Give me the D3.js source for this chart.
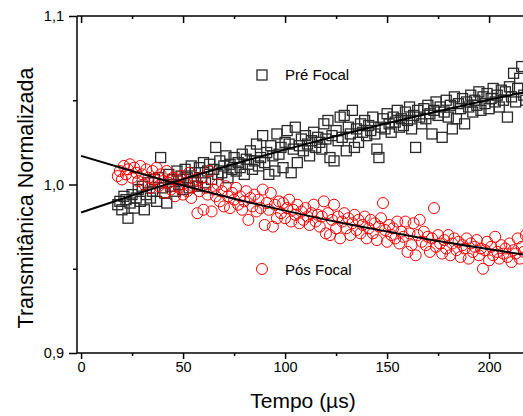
<!DOCTYPE html>
<html><head><meta charset="utf-8">
<script src="https://cdn.jsdelivr.net/npm/d3@7"></script>
<style>body{margin:0;background:#fff}svg{display:block}text{font-family:"Liberation Sans",Arial,sans-serif}</style>
</head><body><svg id="c" width="523" height="416"></svg>
<script>
// sampling times (µs)
const tempo = d3.range(18, 219, 1);
const preFocal = [
0.988,0.990,0.985,0.993,0.991,0.980,0.989,0.994,0.986,0.992,
0.997,0.990,0.999,0.985,0.994,1.001,0.992,0.996,1.003,0.990,
1.004,1.016,0.998,0.995,0.989,1.006,0.999,1.003,0.996,1.008,
1.000,1.005,0.997,1.009,1.004,0.998,1.011,1.002,1.007,0.999,
1.010,1.004,1.013,1.001,1.008,1.012,1.003,1.009,1.022,1.006,
1.014,1.007,1.011,1.017,1.004,1.012,1.009,1.016,1.008,1.013,
1.010,1.018,1.006,1.015,1.012,1.020,1.009,1.014,1.024,1.011,
1.016,1.029,1.013,1.019,1.006,1.023,1.017,1.008,1.030,1.018,
1.022,1.010,1.025,1.032,1.024,1.007,1.021,1.034,1.013,1.023,
1.027,1.020,1.029,1.024,1.017,1.026,1.031,1.022,1.028,1.025,
1.021,1.036,1.027,1.038,1.016,1.029,1.014,1.032,1.026,1.040,
1.028,1.041,1.020,1.034,1.030,1.044,1.022,1.033,1.025,1.036,
1.031,1.038,1.029,1.035,1.032,1.040,1.030,1.021,1.016,1.034,
1.039,1.033,1.042,1.036,1.031,1.040,1.037,1.044,1.034,1.039,
1.035,1.043,1.038,1.046,1.033,1.041,1.022,1.044,1.040,1.036,
1.045,1.039,1.047,1.042,1.030,1.044,1.049,1.041,1.046,1.028,
1.043,1.050,1.040,1.047,1.033,1.052,1.039,1.048,1.045,1.051,
1.036,1.049,1.046,1.053,1.043,1.050,1.047,1.055,1.044,1.052,
1.048,1.054,1.045,1.051,1.057,1.049,1.053,1.046,1.056,1.050,
1.055,1.040,1.058,1.052,1.066,1.049,1.057,1.063,1.070,1.053,1.050];
const posFocal = [
1.005,1.008,1.003,1.011,1.006,1.009,1.012,1.004,1.010,1.007,
1.002,1.011,1.006,1.000,1.009,1.004,0.998,1.008,1.003,1.010,
0.999,1.006,1.002,0.995,1.008,1.001,0.997,1.004,0.993,1.003,
0.998,1.005,0.994,1.001,0.996,1.007,0.992,0.999,1.003,0.983,
0.996,1.004,0.985,0.998,0.994,1.008,0.984,0.997,0.993,1.000,
0.990,0.996,0.987,0.999,0.993,0.986,0.995,0.991,0.998,0.988,
0.993,0.985,0.990,0.996,0.979,0.992,0.987,0.994,0.984,0.991,
0.986,0.997,0.976,0.989,0.985,0.995,0.975,0.988,0.980,0.990,
0.983,0.989,0.980,0.986,0.991,0.978,0.985,0.982,0.988,0.977,
0.984,0.979,0.986,0.981,0.976,0.983,0.988,0.978,0.982,0.975,
0.981,0.990,0.971,0.983,0.970,0.979,0.988,0.974,0.981,0.968,
0.978,0.983,0.974,0.980,0.970,0.977,0.982,0.973,0.979,0.971,
0.976,0.981,0.968,0.974,0.979,0.971,0.977,0.967,0.975,0.980,
0.989,0.973,0.966,0.976,0.970,0.974,0.968,0.978,0.965,0.972,
0.969,0.978,0.960,0.971,0.964,0.977,0.958,0.970,0.979,0.966,
0.972,0.964,0.969,0.960,0.968,0.986,0.963,0.970,0.965,0.959,
0.967,0.962,0.970,0.958,0.965,0.968,0.961,0.966,0.957,0.964,
0.962,0.968,0.956,0.965,0.960,0.963,0.967,0.958,0.962,0.950,
0.961,0.966,0.955,0.963,0.958,0.969,0.960,0.956,0.964,0.959,
0.962,0.957,0.965,0.954,0.961,0.959,0.968,0.956,0.963,0.960,0.970];
const fitX = [0, 25, 50, 75, 100, 125, 150, 175, 200, 225, 250];
const preFit = [0.9834, 0.9935, 1.0032, 1.0122, 1.0207, 1.0288, 1.0364, 1.0435, 1.0503, 1.0567, 1.0628];
const posFit = [1.0170, 1.0080, 0.9994, 0.9916, 0.9845, 0.9779, 0.9721, 0.9665, 0.9616, 0.9569, 0.9527];
const xMajor = [0, 50, 100, 150, 200];
const xMinor = [25, 75, 125, 175, 225];
const yMajor = [0.9, 1.0, 1.1];
const yMinor = [0.95, 1.05];
const seriesNames = ["Pré Focal", "Pós Focal"];

const svg = d3.select("#c");
const x = d3.scaleLinear().domain([-2, 230]).range([77, 77 + 232 * 2.04]);
const y = d3.scaleLinear().domain([0.9, 1.1]).range([353, 16]);
const fmt = d => d3.format(".1f")(d).replace(".", ",");

// data: squares
svg.append("g").selectAll("rect").data(preFocal).join("rect")
  .attr("x", (d, i) => x(tempo[i]) - 5).attr("y", d => y(d) - 5)
  .attr("width", 10).attr("height", 10)
  .attr("fill", "none").attr("stroke", "#2a2a2a").attr("stroke-width", 1.3);
// circles
svg.append("g").selectAll("circle").data(posFocal).join("circle")
  .attr("cx", (d, i) => x(tempo[i])).attr("cy", d => y(d)).attr("r", 5.5)
  .attr("fill", "none").attr("stroke", "#ff0000").attr("stroke-width", 1);

// fits
const line = d3.line().x((d, i) => x(fitX[i])).y(d => y(d)).curve(d3.curveMonotoneX);
[preFit, posFit].forEach(f => svg.append("path").attr("d", line(f))
  .attr("fill", "none").attr("stroke", "#000").attr("stroke-width", 2));

// axes
const axG = svg.append("g");
axG.append("g").attr("transform", "translate(0,353)")
  .call(d3.axisBottom(x).tickValues(xMajor).tickSize(6).tickFormat(d3.format("d")))
  .call(g => g.select(".domain").remove());
axG.append("g").attr("transform", "translate(0,353)")
  .call(d3.axisBottom(x).tickValues(xMinor).tickSize(3).tickFormat(""))
  .call(g => g.select(".domain").remove());
axG.append("g").attr("transform", "translate(0,16)")
  .call(d3.axisBottom(x).tickValues(xMajor).tickSize(7).tickFormat(""))
  .call(g => g.select(".domain").remove());
axG.append("g").attr("transform", "translate(0,16)")
  .call(d3.axisBottom(x).tickValues(xMinor).tickSize(3).tickFormat(""))
  .call(g => g.select(".domain").remove());
axG.append("g").attr("transform", "translate(77,0)")
  .call(d3.axisLeft(y).tickValues(yMajor).tickSize(8).tickPadding(5).tickFormat(fmt))
  .call(g => g.select(".domain").remove());
axG.append("g").attr("transform", "translate(77,0)")
  .call(d3.axisLeft(y).tickValues(yMinor).tickSize(4).tickFormat(""))
  .call(g => g.select(".domain").remove());
axG.selectAll("line").attr("stroke", "#000").attr("stroke-width", 1.5);
axG.selectAll("text").attr("font-size", 14.5).attr("fill", "#000")
  .attr("font-family", "Liberation Sans, Arial, sans-serif");
// frame lines
svg.append("line").attr("x1", 77).attr("x2", 523).attr("y1", 353).attr("y2", 353).attr("stroke", "#000").attr("stroke-width", 1.5);
svg.append("line").attr("x1", 77).attr("x2", 523).attr("y1", 16).attr("y2", 16).attr("stroke", "#000").attr("stroke-width", 1.5);
svg.append("line").attr("x1", 77).attr("x2", 77).attr("y1", 16).attr("y2", 353).attr("stroke", "#000").attr("stroke-width", 1.5);

// titles
svg.append("text").attr("x", 303).attr("y", 408).attr("text-anchor", "middle")
  .attr("font-size", 21).text("Tempo (µs)");
svg.append("text").attr("transform", "translate(33,198) rotate(-90)").attr("text-anchor", "middle")
  .attr("font-size", 21.5).text("Transmitânica Normalizada");

// legend
svg.append("rect").attr("x", 257).attr("y", 70).attr("width", 10).attr("height", 10)
  .attr("fill", "none").attr("stroke", "#2a2a2a").attr("stroke-width", 1.3);
svg.append("text").attr("x", 285).attr("y", 80).attr("font-size", 15).text(seriesNames[0]);
svg.append("circle").attr("cx", 262).attr("cy", 269).attr("r", 5.5)
  .attr("fill", "none").attr("stroke", "#ff0000").attr("stroke-width", 1);
svg.append("text").attr("x", 285).attr("y", 275).attr("font-size", 15).text(seriesNames[1]);
</script></body></html>
